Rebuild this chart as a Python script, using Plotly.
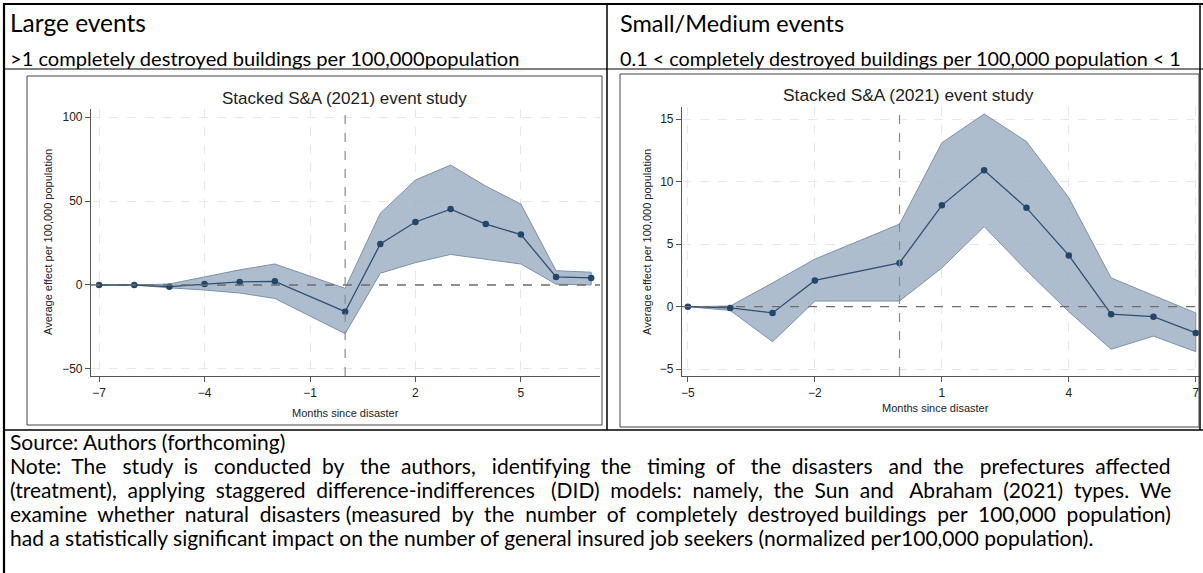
import plotly.graph_objects as go

# ---------------- data ----------------
months_large = [-7, -6, -5, -4, -3, -2, 0, 1, 2, 3, 4, 5, 6, 7]
est_large = [0, 0, -1.0, 0.6, 1.8, 2.2, -15.9, 24.4, 37.5, 45.2, 36.3, 30.0, 4.8, 4.2]
upper_large = [0, 0, 0.6, 4.6, 9.0, 12.5, -2.0, 42.7, 62.5, 71.4, 58.9, 48.2, 8.5, 7.6]
lower_large = [0, 0, -1.7, -3.0, -4.8, -8.0, -29.0, 7.0, 13.3, 18.2, 15.3, 12.5, 0.5, 0.0]

months_small = [-5, -4, -3, -2, 0, 1, 2, 3, 4, 5, 6, 7]
est_small = [0, -0.1, -0.5, 2.1, 3.5, 8.1, 10.9, 7.9, 4.1, -0.6, -0.8, -2.1]
upper_small = [0, 0.05, 1.9, 3.8, 6.6, 13.1, 15.4, 13.2, 8.7, 2.3, 0.9, -0.5]
lower_small = [0, -0.3, -2.8, 0.45, 0.45, 3.1, 6.4, 2.9, -0.4, -3.4, -2.35, -3.6]

xticks_large = [-7, -4, -1, 2, 5]
yticks_large = [-50, 0, 50, 100]
xticks_small = [-5, -2, 1, 4, 7]
yticks_small = [-5, 0, 5, 10, 15]

panel_titles = ["Large events", "Small/Medium events"]
panel_subtitles = [">1 completely destroyed buildings per 100,000population",
                   "0.1 < completely destroyed buildings per 100,000 population < 1"]
chart_title = "Stacked S&A (2021) event study"
x_title = "Months since disaster"
y_title = "Average effect per 100,000 population"
source_text = "Source: Authors (forthcoming)"
note_lines = [
    "Note: The study is conducted by the authors, identifying the timing of the disasters and the prefectures affected",
    "(treatment), applying staggered difference-indifferences (DID) models: namely, the Sun and Abraham (2021) types. We",
    "examine whether natural disasters (measured by the number of completely destroyed buildings per 100,000 population)",
    "had a statistically significant impact on the number of general insured job seekers (normalized per100,000 population).",
]
# extra spaces used to emulate the justified paragraph (style only)
note_extra_spaces = [25, 15, 12, 0]

# ---------------- layout helpers ----------------
W, H = 1203, 573
def px(x):
    return x / W
def py(y):
    return 1 - y / H

BAND_FILL = "rgba(160,177,196,0.85)"
BAND_LINE = "#7d92a9"
LINE_COL = "#2f4f70"
MARK_COL = "#23466b"
GRID = "#e8e8e8"
STATA_FONT = "Liberation Sans, Arial, sans-serif"
DOC_FONT = "Lato, Carlito, Calibri, sans-serif"

fig = go.Figure()

def add_panel(xs, est, up, lo, xa, ya):
    fig.add_trace(go.Scatter(
        x=xs + xs[::-1], y=up + lo[::-1], fill="toself", mode="lines",
        fillcolor=BAND_FILL, line=dict(color=BAND_LINE, width=1),
        hoverinfo="skip", showlegend=False, xaxis=xa, yaxis=ya))
    fig.add_trace(go.Scatter(
        x=xs, y=est, mode="lines+markers",
        line=dict(color=LINE_COL, width=1.3),
        marker=dict(color=MARK_COL, size=6.5),
        showlegend=False, xaxis=xa, yaxis=ya))

add_panel(months_large, est_large, upper_large, lower_large, "x", "y")
add_panel(months_small, est_small, upper_small, lower_small, "x2", "y2")

def axis(domain, tickvals, rng, anchor):
    return dict(domain=domain, range=rng, anchor=anchor, tickmode="array",
                tickvals=tickvals, ticks="outside", ticklen=5, tickcolor="#555",
                showline=True, linecolor="#555", linewidth=1.2,
                showgrid=True, gridcolor=GRID, griddash="dash", gridwidth=1,
                zeroline=False, tickfont=dict(family=STATA_FONT, size=12, color="#222"))

fig.update_layout(
    width=W, height=H, margin=dict(l=0, r=0, t=0, b=0),
    paper_bgcolor="white", plot_bgcolor="white", showlegend=False,
    xaxis=axis([px(91), px(600)], xticks_large, [-7.23, 7.25], "y"),
    yaxis=axis([py(376), py(109)], yticks_large, [-54.2, 104.8], "x"),
    xaxis2=axis([px(682), px(1200)], xticks_small, [-5.14, 7.1], "y2"),
    yaxis2=axis([py(376), py(107)], yticks_small, [-5.54, 15.96], "x2"),
)

shapes = []
for xa, ya in [("x", "y"), ("x2", "y2")]:
    shapes.append(dict(type="line", xref=xa + " domain", yref=ya, x0=0, x1=1, y0=0, y1=0,
                       line=dict(color="#6e6e6e", width=1.3, dash="dash"), layer="above"))
    shapes.append(dict(type="line", xref=xa, yref=ya + " domain", x0=0, x1=0, y0=0, y1=1,
                       line=dict(color="#8a8a8a", width=1.2, dash="dash"), layer="above"))

def pline(x0, y0, x1, y1, w=1.0, c="black"):
    shapes.append(dict(type="line", xref="paper", yref="paper",
                       x0=px(x0), y0=py(y0), x1=px(x1), y1=py(y1),
                       line=dict(color=c, width=w)))

def prect(x0, y0, x1, y1, w=1.0, c="#333"):
    shapes.append(dict(type="rect", xref="paper", yref="paper",
                       x0=px(x0), y0=py(y0), x1=px(x1), y1=py(y1),
                       line=dict(color=c, width=w), fillcolor="rgba(0,0,0,0)"))

# table frame
pline(3, 4, 1203, 4, 2)
pline(4, 4, 4, 573, 2.2)
pline(1200, 4, 1200, 430, 1.5)
pline(607, 4, 607, 430, 1.5)
pline(4, 69, 1203, 69, 1.2)
pline(4, 430, 1203, 430, 1.5)
# chart image borders
prect(27, 76, 602, 425, 1, "#444")
prect(620, 74, 1199, 427, 1, "#444")

fig.update_layout(shapes=shapes)

ann = []
def text(x, y, s, size, family=DOC_FONT, xanchor="left", yanchor="middle", color="black", angle=0):
    ann.append(dict(text=s, x=px(x), y=py(y), xref="paper", yref="paper", showarrow=False,
                    xanchor=xanchor, yanchor=yanchor, textangle=angle, borderpad=0,
                    font=dict(family=family, size=size, color=color)))

text(9, 23, panel_titles[0], 24.5)
text(619, 23, panel_titles[1], 23.5)
text(9, 58, panel_subtitles[0], 20.1)
text(619, 58, panel_subtitles[1], 19.8)

text(344, 98, chart_title, 17, STATA_FONT, "center", color="#222")
text(908, 95, chart_title, 17.4, STATA_FONT, "center", color="#222")
text(345, 413, x_title, 11, STATA_FONT, "center", color="#222")
text(935, 408, x_title, 11, STATA_FONT, "center", color="#222")
text(48, 242, y_title, 11, STATA_FONT, "center", color="#222", angle=-90)
text(647, 242, y_title, 11, STATA_FONT, "center", color="#222", angle=-90)

def justify(line, extra):
    words = line.split(" ")
    gaps = len(words) - 1
    if extra <= 0 or gaps <= 0:
        return line
    out = words[0]
    given = 0
    for i in range(1, len(words)):
        target = round(extra * i / gaps)
        k = target - given
        given = target
        out += " " + "\u00a0" * k + words[i]
    return out

text(9, 441, source_text, 21)
for i, line in enumerate(note_lines):
    text(9, 465 + 24 * i, justify(line, note_extra_spaces[i]), 21)

fig.update_layout(annotations=ann)

fig.write_html("out.html")
